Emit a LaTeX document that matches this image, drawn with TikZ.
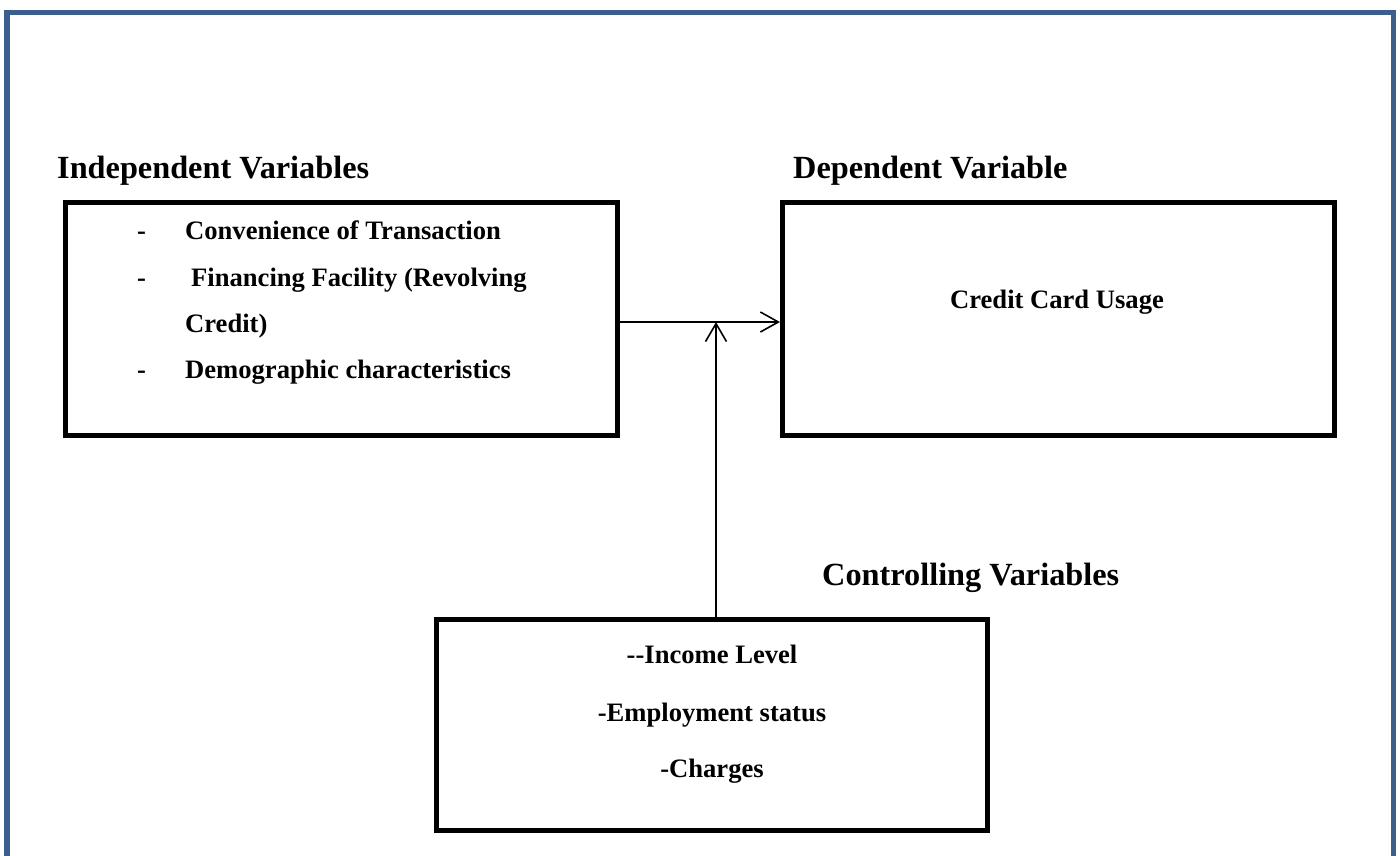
\documentclass[tikz,border=0pt]{standalone}
\usepackage{fontspec}
\setmainfont{Liberation Serif}
\usetikzlibrary{arrows.meta}
\definecolor{frameblue}{RGB}{58,95,141}

\begin{document}
\begin{tikzpicture}[x=1pt, y=-1pt,
  box/.style={draw, line width=5pt, inner sep=0pt},
  head/.style={anchor=base west, inner sep=0pt, font=\fontsize{32.3}{37}\selectfont\bfseries},
  item/.style={anchor=base west, inner sep=0pt, font=\fontsize{26.6}{31}\selectfont\bfseries},
  citem/.style={item, anchor=base}]

  \useasboundingbox (0,0) rectangle (1400,855);
  \draw [frameblue, line width=5.5pt] (7,860) -- (7,12.5) -- (1393.5,12.5) -- (1393.5,860);

  \node (a) at (57, 178) [head] {Independent Variables};
  \node (b) at (793, 178) [head] {Dependent Variable};
  \node (c) at (822, 585) [head] {Controlling Variables};

  \node (d) at (341.5, 319) [box, minimum width=552pt, minimum height=233pt] {};
  \node (e) at (1058.5, 319) [box, minimum width=552pt, minimum height=233pt] {};
  \node (f) at (712, 724.5) [box, minimum width=551pt, minimum height=211pt] {};

  \node (g1) at (137, 239) [item] {-};
  \node (g2) at (137, 286) [item] {-};
  \node (g3) at (137, 378) [item] {-};
  \node (h1) at (185, 239) [item] {Convenience of Transaction};
  \node (h2) at (191, 286) [item] {Financing Facility (Revolving};
  \node (h3) at (185, 332) [item] {Credit)};
  \node (h4) at (185, 378) [item] {Demographic characteristics};

  \node (i) at (1057, 308) [citem] {Credit Card Usage};

  \node (j1) at (712, 663) [citem] {-{}-Income Level};
  \node (j2) at (712, 721) [citem] {-Employment status};
  \node (j3) at (712, 777) [citem] {-Charges};

  \coordinate (m) at (716, 322);
  \draw [-{Straight Barb[length=18pt,width=20pt]}, line width=1.6pt] (d.east |- m) -- (e.west |- m);
  \draw [-{Straight Barb[length=18pt,width=21pt]}, line width=1.6pt] (f.north -| m) -- (m);

\end{tikzpicture}
\end{document}
